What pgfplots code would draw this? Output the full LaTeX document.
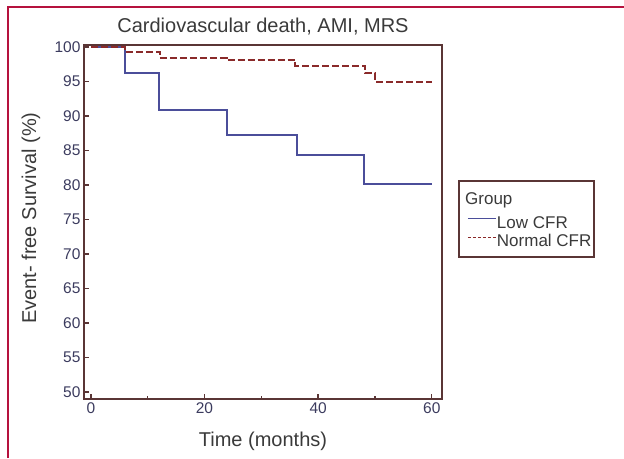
\documentclass[border=0pt]{standalone}
\usepackage{pgfplots}
\pgfplotsset{compat=1.18}
\usepackage{fontspec}
\setmainfont{Liberation Sans}

\definecolor{framered}{HTML}{B5123E}
\definecolor{axisbrown}{HTML}{5A3535}
\definecolor{lowblue}{HTML}{4B4E9A}
\definecolor{normred}{HTML}{8A2A2A}
\definecolor{ticktext}{HTML}{3B3B5E}
\definecolor{labeltext}{HTML}{3A3A3A}

\begin{document}
\begin{tikzpicture}
\useasboundingbox (0pt,0pt) rectangle (624pt,458pt);
% outer frame (top and left edges)
\draw[framered, line width=2pt] (7.5pt,0pt) -- (7.5pt,451pt) -- (624pt,451pt);

\begin{axis}[
    at={(84pt,59pt)}, anchor=south west,
    scale only axis,
    width=358pt, height=354pt,
    xmin=-1.2, xmax=61.8,
    ymin=49, ymax=100.3,
    xtick={0,20,40,60},
    minor xtick={10,30,50},
    ytick={50,55,...,100},
    tick pos=left,
    axis line style={axisbrown, line width=2.4pt},
    every tick/.style={axisbrown, line width=1.4pt},
    major tick length=5pt,
    minor tick length=3pt,
    tick label style={font=\fontsize{15.5}{16}\selectfont, text=ticktext},
    /pgf/number format/assume math mode=true,
    title={Cardiovascular death, AMI, MRS},
    title style={at={(axis description cs:0.5,1)}, anchor=base, yshift=6pt,
        font=\fontsize{20}{22}\selectfont, text=labeltext},
    xlabel={Time (months)},
    xlabel style={at={(axis description cs:0.5,0)}, anchor=base, yshift=-47pt,
        font=\fontsize{20}{22}\selectfont, text=labeltext},
    ylabel={Event- free Survival (\%)},
    ylabel style={at={(axis description cs:-0.148,0.511)}, anchor=center,
        font=\fontsize{20}{22}\selectfont, text=labeltext},
    clip=false,
    legend cell align=left,
    legend image code/.code={\draw[#1, line width=1.2pt] (0pt,5.5pt) -- (28pt,5.5pt);},
    legend style={at={(axis description cs:1.07,0.52)}, anchor=north west,
        draw=none, fill=none, inner sep=0pt, row sep=0pt,
        font=\fontsize{17}{18}\selectfont, text=labeltext,
        nodes={inner sep=0.5pt, text height=12.5pt, text depth=5pt}},
]
\addplot[const plot, lowblue, line width=2pt] coordinates {
    (0,100) (6,96.3) (12,90.9) (24,87.2) (36.2,84.3) (48,80.1) (60,80.1)
};
\addlegendentry{Low CFR}
\addplot[const plot, normred, line width=2pt, dash pattern=on 7pt off 3pt,
    forget plot] coordinates {
    (0,100) (6,99.3) (12.1,98.4) (23.9,98.1) (36,97.3) (48.2,96.2) (50,95.0) (60,95.0)
};
\addlegendimage{normred, dash pattern=on 3pt off 2pt}
\addlegendentry{Normal CFR}
\end{axis}

% legend frame and heading
\draw[axisbrown, line width=1.2pt] (459pt,277pt) rectangle (594pt,201pt);
\node[anchor=base west, inner sep=0pt, font=\fontsize{17}{18}\selectfont, text=labeltext]
    at (465pt,253pt) {Group};
\end{tikzpicture}
\end{document}
